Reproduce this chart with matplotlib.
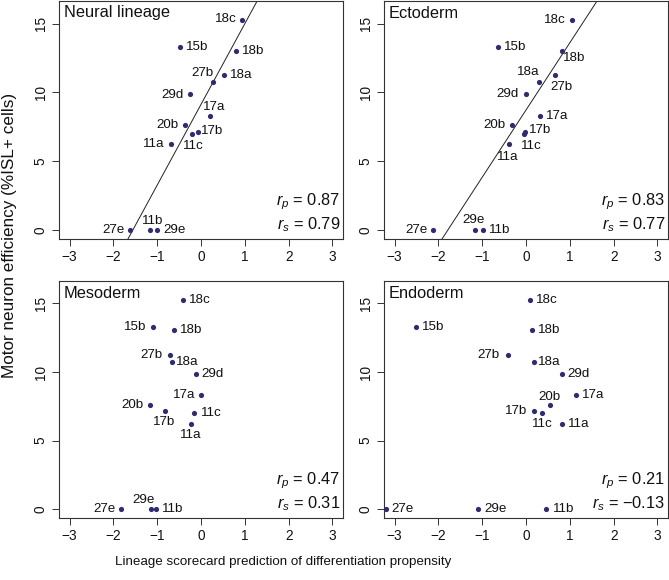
import numpy as np
import matplotlib
matplotlib.use("Agg")
import matplotlib.pyplot as plt

plt.rcParams['font.family'] = ['Liberation Sans', 'DejaVu Sans']
plt.rcParams['mathtext.fontset'] = 'custom'
plt.rcParams['mathtext.rm'] = 'Liberation Sans'
plt.rcParams['mathtext.it'] = 'Liberation Sans:italic'

# ---- data ----
lines = ['18c', '15b', '18b', '27b', '18a', '29d', '17a', '20b', '17b', '11c', '11a', '27e', '11b', '29e']
efficiency = [15.27, 13.30, 13.04, 11.27, 10.73, 9.86, 8.31, 7.61, 7.15, 6.98, 6.23, 0.0, 0.0, 0.0]

panels = ['Neural lineage', 'Ectoderm', 'Mesoderm', 'Endoderm']
score_neural = [0.93, -0.47, 0.80, 0.53, 0.28, -0.245, 0.20, -0.37, -0.06, -0.21, -0.69, -1.61, -1.17, -1.00]
score_ecto = [1.04, -0.64, 0.83, 0.67, 0.30, -0.01, 0.32, -0.31, -0.03, -0.05, -0.385, -2.12, -0.98, -1.17]
score_meso = [-0.41, -1.10, -0.62, -0.71, -0.66, -0.12, 0.01, -1.16, -0.82, -0.15, -0.225, -1.815, -1.03, -1.14]
score_endo = [0.08, -2.50, 0.13, -0.415, 0.19, 0.82, 1.14, 0.545, 0.19, 0.355, 0.82, -3.205, 0.46, -1.09]
scores = [score_neural, score_ecto, score_meso, score_endo]
r_pearson = ['0.87', '0.83', '0.47', '0.21']
r_spearman = ['0.79', '0.77', '0.31', '\u22120.13']
show_fit = [True, True, False, False]

xticks = [-3, -2, -1, 0, 1, 2, 3]
yticks = [0, 5, 10, 15]

# ---- label offsets (pixels, dx right, dy up) per panel ----
L, R = (-17, 0), (17, 0)
label_offsets = [
    {'18c': (-16, 1), '15b': R, '18b': R, '27b': (-22, 2), '18a': (28, 7), '29d': (-18, -1),
     '17a': (4, 9), '20b': L, '17b': (14, 1), '11c': (2, -12), '11a': L, '27e': L,
     '11b': (3, 9), '29e': R},
    {'18c': L, '15b': R, '18b': (12, -7), '27b': (6, -12), '18a': (-11, 10), '29d': (-18, 0),
     '17a': R, '20b': (-18, 0), '17b': (15, 2), '11c': (8, -12), '11a': (-1, -13), '27e': L,
     '29e': (-1, 10), '11b': R},
    {'18c': R, '15b': (-18, 0), '18b': R, '27b': (-18, 0), '18a': (15, 0), '29d': R,
     '17a': L, '20b': (-18, 0), '17b': (-1, -11), '11c': R, '11a': (0, -11), '27e': L,
     '29e': (-7, 9), '11b': R},
    {'18c': R, '15b': R, '18b': R, '27b': (-19, 0), '18a': (15, 0), '29d': R,
     '17a': R, '20b': (0, 8), '17b': (-18, 0), '11c': (1, -11), '11a': R, '27e': R,
     '29e': R, '11b': R},
]

W, H = 669, 580
fig = plt.figure(figsize=(W / 100, H / 100), dpi=100)

boxes = [(59, 1, 343, 239), (384, 1, 668, 239), (59, 281, 343, 518), (384, 281, 668, 518)]
dot_color = '#2E2B70'
spine_color = '#333333'

for i, (x0, y0, x1, y1) in enumerate(boxes):
    ax = fig.add_axes([x0 / W, 1 - y1 / H, (x1 - x0) / W, (y1 - y0) / H])
    xs = np.array(scores[i])
    ys = np.array(efficiency)
    ax.set_xlim(-3.24, 3.24)
    ax.set_ylim(-0.64, 16.64)
    if show_fit[i]:
        slope, intercept = np.polyfit(xs, ys, 1)
        ax.axline((0, intercept), slope=slope, color='#222222', lw=0.7, zorder=1)
    ax.scatter(xs, ys, s=14, color=dot_color, zorder=3, linewidths=0)
    for name, x, y in zip(lines, xs, ys):
        dx, dy = label_offsets[i][name]
        ax.annotate(name, (x, y), xytext=(dx, dy), textcoords='offset pixels',
                    ha='center', va='center', fontsize=9.6, color='#111111', zorder=4)
    ax.text(5 / (x1 - x0), 1 - 12 / (y1 - y0), panels[i], transform=ax.transAxes,
            ha='left', va='center', fontsize=11.8, color='#111111')
    ax.text(1 - 3 / (x1 - x0), 37 / (y1 - y0), '$r_p$ = ' + r_pearson[i], transform=ax.transAxes,
            ha='right', va='center', fontsize=11.8, color='#111111')
    ax.text(1 - 3 / (x1 - x0), 14 / (y1 - y0), '$r_s$ = ' + r_spearman[i], transform=ax.transAxes,
            ha='right', va='center', fontsize=11.8, color='#111111')
    ax.set_xticks(xticks)
    ax.set_yticks(yticks)
    ax.set_yticklabels([str(t) for t in yticks], rotation=90, va='center')
    ax.tick_params(direction='out', length=5, width=0.7, pad=3, labelsize=9.8,
                   colors='#333333', labelcolor='#111111')
    for sp in ax.spines.values():
        sp.set_color(spine_color)
        sp.set_linewidth(0.8)

fig.text(9.5 / W, 1 - 235 / H, 'Motor neuron efficiency (%ISL+ cells)', rotation=90,
         ha='center', va='center', fontsize=12.3, color='#111111')
fig.text(283.5 / W, 1 - 562 / H, 'Lineage scorecard prediction of differentiation propensity',
         ha='center', va='center', fontsize=9.6, color='#111111')

fig.savefig('out.png', dpi=100)
